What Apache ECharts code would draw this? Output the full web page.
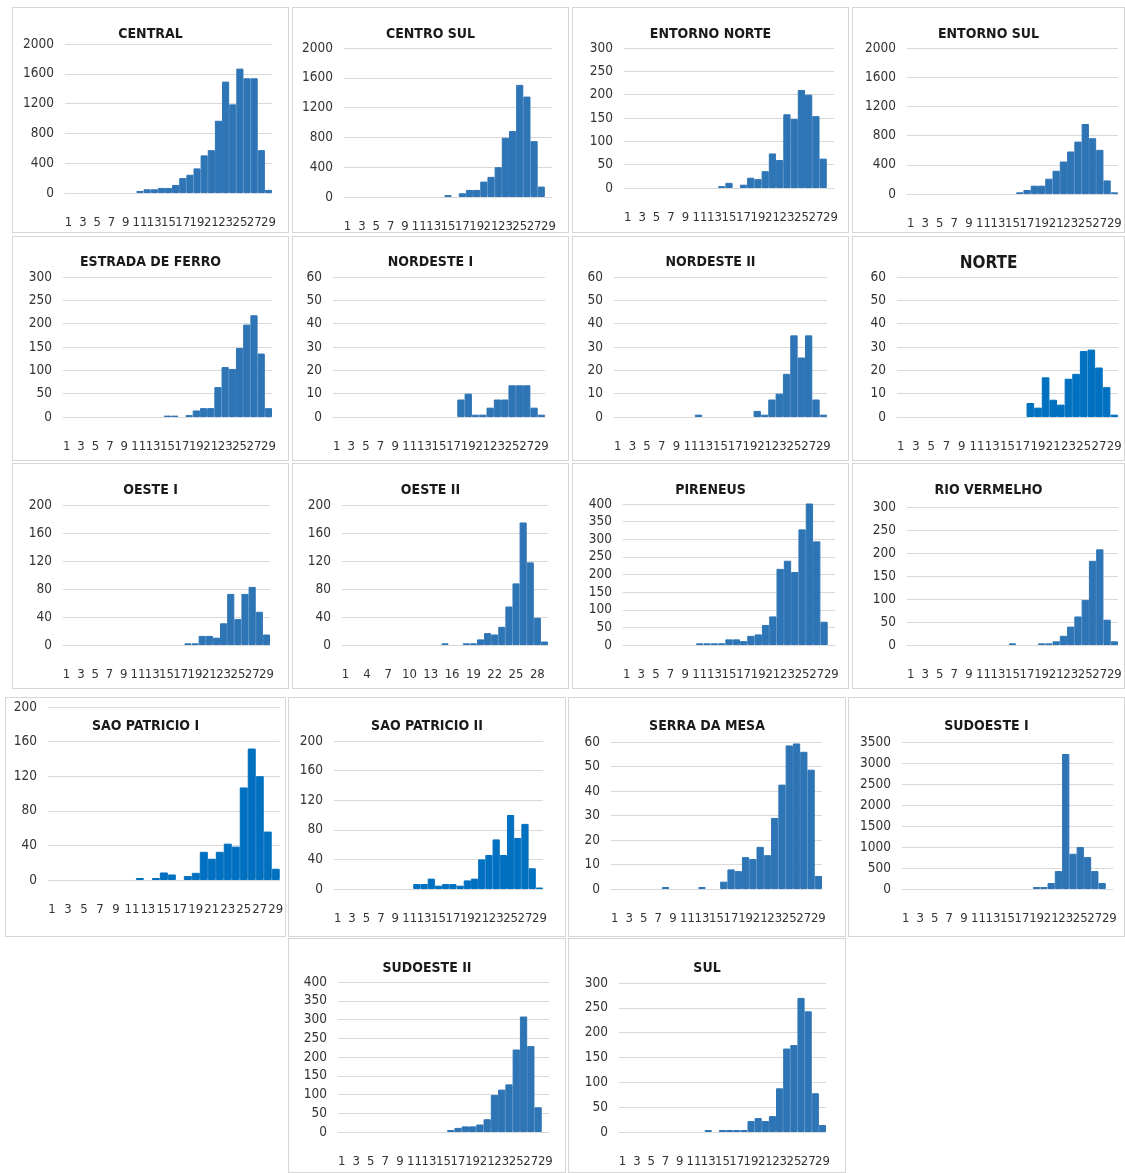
<!DOCTYPE html>
<html><head><meta charset="utf-8">
<script src="https://cdn.jsdelivr.net/npm/echarts@6/dist/echarts.min.js"></script>
<style>
body{margin:0;background:#fff;width:1125px;height:1173px;position:relative;overflow:hidden}
.p{position:absolute;border:1px solid #d6d6d6;box-sizing:border-box;overflow:hidden;background:#fff}
.c{position:absolute;left:-1px;top:-1px}
</style></head><body>
<script>
// ---------- DATA ----------
const categories = ['1','2','3','4','5','6','7','8','9','10','11','12','13','14','15','16','17','18','19','20','21','22','23','24','25','26','27','28','29'];

const central      = [0,0,0,0,0,0,0,0,0,0, 27,50,50,68,68,108,200,245,330,505,575,970,1495,1190,1670,1540,1540,575,42];
const centroSul    = [0,0,0,0,0,0,0,0,0,0,0,0,0,0, 25,0,50,95,95,207,270,400,795,885,1505,1348,750,140,0];
const entornoNorte = [0,0,0,0,0,0,0,0,0,0,0,0,0, 4,11,0,7,22,19,36,74,60,158,148,210,200,154,63,0];
const entornoSul   = [0,0,0,0,0,0,0,0,0,0,0,0,0,0,0, 23,55,114,114,209,318,445,582,718,959,764,605,186,23];
const estradaFerro = [0,0,0,0,0,0,0,0,0,0,0,0,0,0, 3,3,0,4,14,19,19,64,107,103,148,198,218,136,19];
const nordesteI    = [0,0,0,0,0,0,0,0,0,0,0,0,0,0,0,0,0, 7.5,10,1,1,4,7.5,7.5,13.6,13.6,13.6,4,1];
const nordesteII   = [0,0,0,0,0,0,0,0,0,0,0, 1,0,0,0,0,0,0,0, 2.6,1,7.5,10,18.5,35,25.5,35,7.5,1];
const norte        = [0,0,0,0,0,0,0,0,0,0,0,0,0,0,0,0,0, 6,4,17,7.4,5.3,16.4,18.5,28.3,28.9,21.2,12.8,1];
const oesteI       = [0,0,0,0,0,0,0,0,0,0,0,0,0,0,0,0,0, 2.4,2.4,13,13,10.5,31,73,37,73,83,47.5,15];
const oesteII      = [0,0,0,0,0,0,0,0,0,0,0,0,0,0, 2.4,0,0,2.4,2.4,8,17,15,26,55,88,175,118,39,5];
const pireneus     = [0,0,0,0,0,0,0,0,0,0, 4.8,4.8,4.8,4.8,16,16,11,26,30,57,81,216,239,207,328,402,294,66,0];
const rioVermelho  = [0,0,0,0,0,0,0,0,0,0,0,0,0,0, 3.6,0,0,0,3.6,3.6,8,20,40,62,98,183,208,55,8];
const saoPatricioI = [0,0,0,0,0,0,0,0,0,0,0, 2.3,0,2.3,8.7,6.4,0,4.5,8.3,32.6,24.6,32.6,42,38.6,107,152,120,56,13];
const saoPatricioII= [0,0,0,0,0,0,0,0,0,0,0, 6.7,6.7,14,4.5,6.7,6.7,4.5,11.6,14,40,46,67,46,100,69,88,28,2];
const serraMesa    = [0,0,0,0,0,0,0, 0.8,0,0,0,0, 0.8,0,0, 3,8,7.3,13,12.2,17.2,13.8,29,42.6,58.6,59.4,56,48.7,5.3];
const sudoesteI    = [0,0,0,0,0,0,0,0,0,0,0,0,0,0,0,0,0,0, 47,47,142,427,3215,839,998,760,427,142,0];
const sudoesteII   = [0,0,0,0,0,0,0,0,0,0,0,0,0,0,0, 5.4,11,15,15,20,34,99,113,127,220,308,229,66,0];
const sul          = [0,0,0,0,0,0,0,0,0,0,0,0, 4,0,4,4,4,4,22,28,22,32,88,168,175,270,243,78,14];

const titles = ['CENTRAL','CENTRO SUL','ENTORNO NORTE','ENTORNO SUL','ESTRADA DE FERRO','NORDESTE I','NORDESTE II','NORTE',
  'OESTE I','OESTE II','PIRENEUS','RIO VERMELHO','SAO PATRICIO I','SAO PATRICIO II','SERRA DA MESA','SUDOESTE I','SUDOESTE II','SUL'];
const seriesList = [central,centroSul,entornoNorte,entornoSul,estradaFerro,nordesteI,nordesteII,norte,
  oesteI,oesteII,pireneus,rioVermelho,saoPatricioI,saoPatricioII,serraMesa,sudoesteI,sudoesteII,sul];
// y-axis tick ranges (max, step)
const yMax  = [2000,2000,300,2000,300,60,60,60,200,200,400,300,200,200,60,3500,400,300];
const yStep = [400,400,50,400,50,10,10,10,40,40,50,50,40,40,10,500,50,50];
// x tick label step (every nth category)
const xLabelEvery = [2,2,2,2,2,2,2,2,2,3,2,2,2,2,2,2,2,2];

// ---------- LAYOUT (page px): panel box [x,y,w,h], plot [left,right,top(max),bottom(0)], title y ----------
const layout = [
  {box:[12,7,277,226],   plot:[65,272,44,193],   ty:33},
  {box:[292,7,277,226],  plot:[344,552,48,197],  ty:33},
  {box:[572,7,277,226],  plot:[624,834,48,188],  ty:33},
  {box:[852,7,273,226],  plot:[907,1118,48,194], ty:33},
  {box:[12,236,277,225], plot:[63,272,277,417],  ty:261},
  {box:[292,236,277,225],plot:[333,545,277,417], ty:261},
  {box:[572,236,277,225],plot:[614,827,277,417], ty:261},
  {box:[852,236,273,225],plot:[897,1118,277,417],ty:263, big:true},
  {box:[12,463,277,226], plot:[63,270,505,645],  ty:489},
  {box:[292,463,277,226],plot:[342,548,505,645], ty:489},
  {box:[572,463,277,226],plot:[623,835,504,645], ty:489},
  {box:[852,463,273,226],plot:[907,1118,507,645],ty:489},
  {box:[5,697,281,240],  plot:[48,288,707,880],  ty:725},
  {box:[288,697,278,240],plot:[334,543,741,889], ty:725},
  {box:[568,697,278,240],plot:[611,822,742,889], ty:725},
  {box:[848,697,277,240],plot:[902,1113,742,889],ty:725},
  {box:[288,938,278,235],plot:[338,549,982,1132],ty:967},
  {box:[568,938,278,235],plot:[619,826,983,1132],ty:967}
];
const bright = {'NORTE':1,'SAO PATRICIO I':1,'SAO PATRICIO II':1};

const FONT = '"Liberation Sans Narrow","Arial Narrow","DejaVu Sans Condensed",sans-serif';

titles.forEach((t, i) => {
  const L = layout[i];
  const [bx, by, bw, bh] = L.box;
  const [pl, pr, pt, pb] = L.plot;
  const panel = document.createElement('div');
  panel.className = 'p';
  panel.style.left = bx + 'px'; panel.style.top = by + 'px';
  panel.style.width = bw + 'px'; panel.style.height = bh + 'px';
  const c = document.createElement('div');
  c.className = 'c';
  c.style.width = bw + 'px'; c.style.height = bh + 'px';
  panel.appendChild(c);
  document.body.appendChild(panel);
  const chart = echarts.init(c, null, {renderer: 'canvas'});
  const fs = L.big ? 17 : 14;
  const every = xLabelEvery[i];
  const col = bright[t] ? '#0070C0' : '#2E75B6';
  chart.setOption({
    animation: false,
    backgroundColor: 'transparent',
    title: {
      text: t, left: 'center', top: L.ty - by - fs / 2, padding: 0,
      textStyle: {fontFamily: FONT, fontWeight: 'bold', fontSize: fs, color: '#1a1a1a', lineHeight: fs + 2}
    },
    grid: {left: pl - bx, top: pt - by, width: pr - pl, height: pb - pt, containLabel: false},
    xAxis: {
      type: 'category', data: categories, boundaryGap: true,
      axisLine: {show: true, lineStyle: {color: '#d9d9d9'}},
      axisTick: {show: false},
      axisLabel: {interval: 0, formatter: (v, idx) => (idx % every === 0 ? v : ''),
        margin: 23, fontFamily: FONT, fontSize: 13, color: '#333'},
      splitLine: {show: false}
    },
    yAxis: {
      type: 'value', min: 0, max: yMax[i], interval: yStep[i],
      axisLine: {show: false}, axisTick: {show: false},
      axisLabel: {margin: 11, fontFamily: FONT, fontSize: 13.5, color: '#333', formatter: (v) => String(v)},
      splitLine: {show: true, lineStyle: {color: '#d9d9d9', width: 1}}
    },
    series: [{
      type: 'bar', data: seriesList[i].map(v => v === 0 ? '-' : v), barCategoryGap: '0%', barGap: '0%', silent: true,
      itemStyle: {color: col, borderColor: col, borderWidth: 1}
    }]
  });
});
</script>
</body></html>
